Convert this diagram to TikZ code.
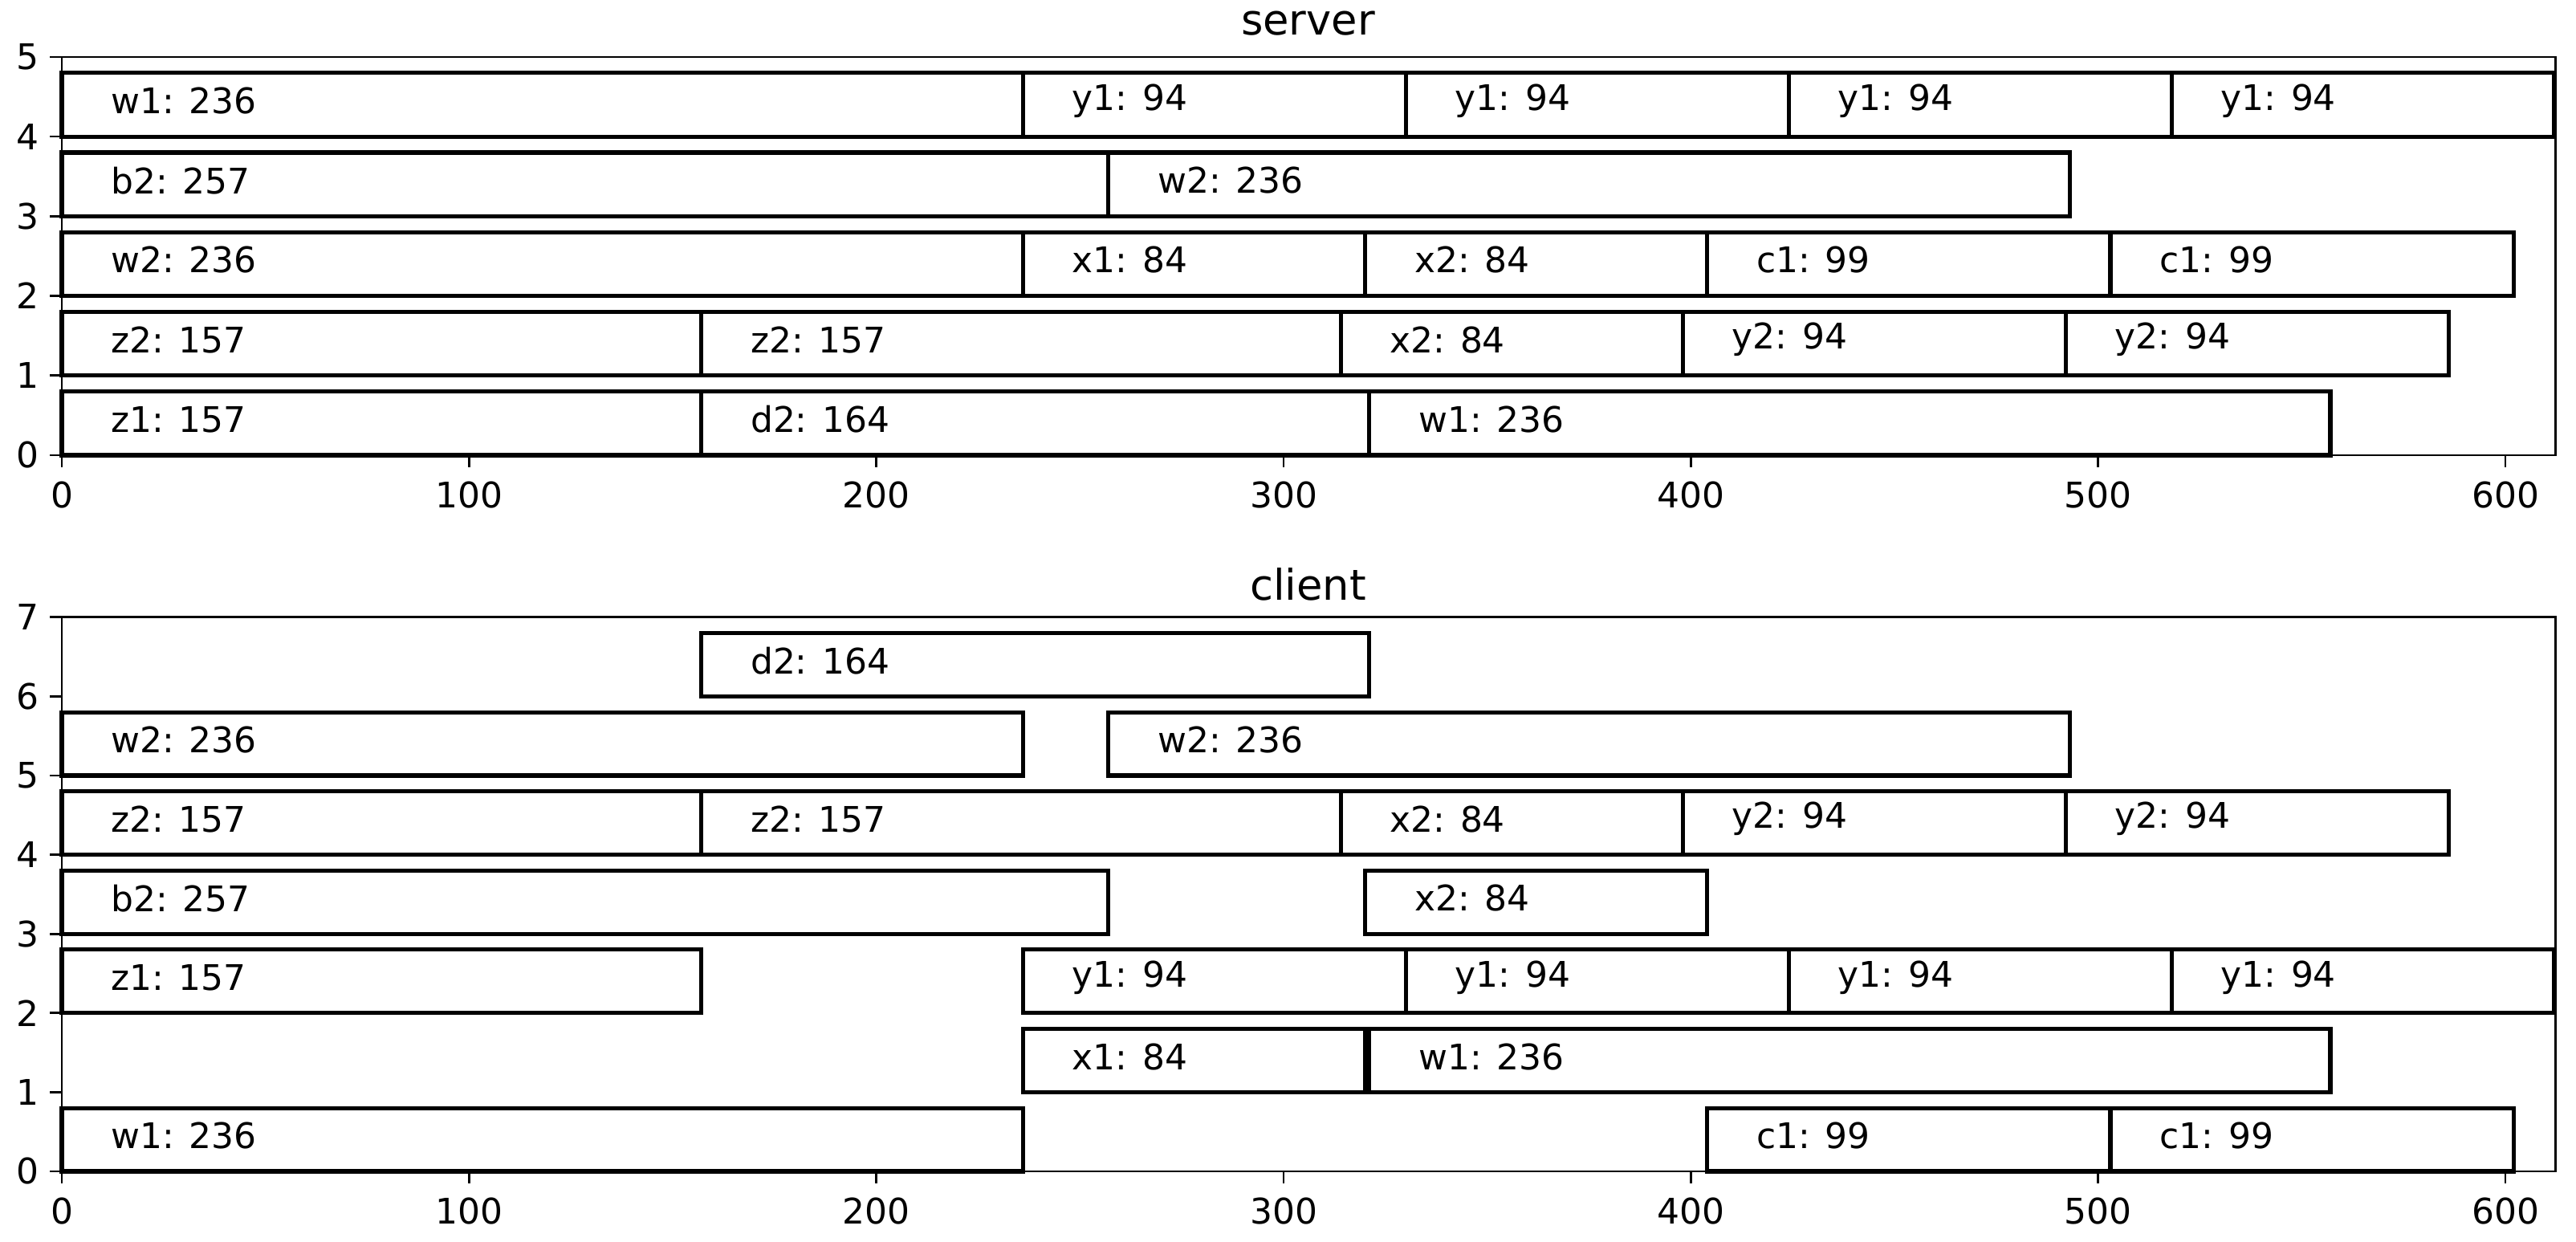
\documentclass[tikz,border=0pt]{standalone}
\usepackage{fontspec}
\setmainfont{DejaVu Sans}
\begin{document}
\begin{tikzpicture}[
  barbox/.style={draw=black,line width=1.45pt,fill=none},
  spine/.style={draw=black,line width=0.75pt},
  lbl/.style={anchor=west,inner sep=0pt,font=\fontsize{12.5pt}{14pt}\selectfont},
  tick/.style={font=\fontsize{12.5pt}{14pt}\selectfont,inner sep=0pt},
  ttl/.style={font=\fontsize{15pt}{17pt}\selectfont,inner sep=0pt}]
\useasboundingbox (0,0) rectangle (32.09,15.47);
% server
\begin{scope}[shift={(0.77,9.80)},x=0.05073cm,y=0.992cm]
  \foreach \a/\w/\r/\t [count=\k] in {0/236/4/w1: 236,236/94/4/y1: 94,330/94/4/y1: 94,424/94/4/y1: 94,518/94/4/y1: 94,
    0/257/3/b2: 257,257/236/3/w2: 236,
    0/236/2/w2: 236,236/84/2/x1: 84,320/84/2/x2: 84,404/99/2/c1: 99,503/99/2/c1: 99,
    0/157/1/z2: 157,157/157/1/z2: 157,314/84/1/x2: 84,398/94/1/y2: 94,492/94/1/y2: 94,
    0/157/0/z1: 157,157/164/0/d2: 164,321/236/0/w1: 236}{
    \draw[barbox] (\a,\r) rectangle ++(\w,0.8);
    \node[lbl] (s\k) at (\a+12,\r+0.45) {\t};
  }
  \draw[spine] (0,0) rectangle (612.3,5);
  \foreach \v in {0,100,...,600}{\draw[spine] (\v,0) -- ++(0,-0.15); \node[tick] (sx\v) at (\v,-0.5) {\v};}
  \foreach \v in {0,...,5}{\draw[spine] (0,\v) -- ++(-3,0); \node[tick,anchor=east] (sy\v) at (-5.5,\v) {\v};}
  \node[ttl] (stitle) at (306,5.42) {server};
\end{scope}
% client
\begin{scope}[shift={(0.77,0.88)},x=0.05073cm,y=0.986cm]
  \foreach \a/\w/\r/\t [count=\k] in {157/164/6/d2: 164,
    0/236/5/w2: 236,257/236/5/w2: 236,
    0/157/4/z2: 157,157/157/4/z2: 157,314/84/4/x2: 84,398/94/4/y2: 94,492/94/4/y2: 94,
    0/257/3/b2: 257,320/84/3/x2: 84,
    0/157/2/z1: 157,236/94/2/y1: 94,330/94/2/y1: 94,424/94/2/y1: 94,518/94/2/y1: 94,
    236/84/1/x1: 84,321/236/1/w1: 236,
    0/236/0/w1: 236,404/99/0/c1: 99,503/99/0/c1: 99}{
    \draw[barbox] (\a,\r) rectangle ++(\w,0.8);
    \node[lbl] (c\k) at (\a+12,\r+0.45) {\t};
  }
  \draw[spine] (0,0) rectangle (612.3,7);
  \foreach \v in {0,100,...,600}{\draw[spine] (\v,0) -- ++(0,-0.15); \node[tick] (cx\v) at (\v,-0.5) {\v};}
  \foreach \v in {0,...,7}{\draw[spine] (0,\v) -- ++(-3,0); \node[tick,anchor=east] (cy\v) at (-5.5,\v) {\v};}
  \node[ttl] (ctitle) at (306,7.42) {client};
\end{scope}
\end{tikzpicture}
\end{document}
